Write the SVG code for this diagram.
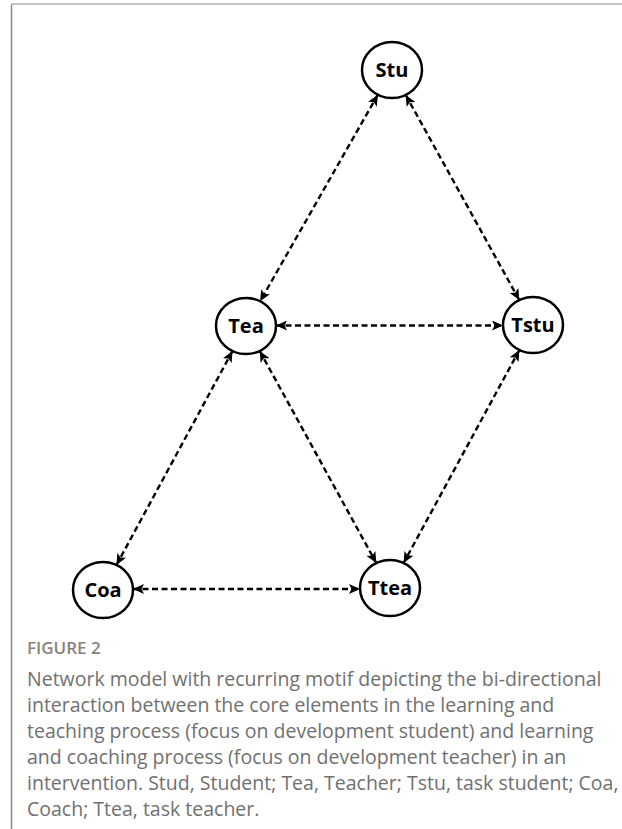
<svg xmlns="http://www.w3.org/2000/svg" width="622" height="829" viewBox="0 0 622 829">
<defs>
<marker id="ah" viewBox="0 0 11 10" refX="11" refY="5" markerWidth="11" markerHeight="10" markerUnits="userSpaceOnUse" orient="auto-start-reverse">
<path d="M0,0 L11,5 L0,10 L2.5,5 Z" fill="#000"/>
</marker>
<style>
.node ellipse{fill:#fff;stroke:#000;stroke-width:2.5}
.node text{font-family:"Open Sans","Noto Sans",sans-serif;font-weight:700;font-size:20px;fill:#000;text-anchor:middle}
.edge{stroke:#000;stroke-width:2.4;stroke-dasharray:6 3.5;fill:none;marker-start:url(#ah);marker-end:url(#ah)}
.cap{font-family:"Open Sans","Noto Sans",sans-serif;font-size:19.5px;fill:#707070}
.fig{font-family:"Open Sans","Noto Sans",sans-serif;font-size:17px;font-weight:600;fill:#8a817c}
</style>
</defs>
<rect width="622" height="829" fill="#fff"/>
<line x1="11.5" y1="4" x2="11.5" y2="829" stroke="#8a8a8a" stroke-width="1.5"/>
<line x1="11" y1="4" x2="622" y2="4" stroke="#c4c4c4" stroke-width="2"/>
<g id="connectors">
<line class="edge" x1="377.9" y1="94.7" x2="260.1" y2="301.3"/>
<line class="edge" x1="405.7" y1="94.9" x2="519.3" y2="300.1"/>
<line class="edge" x1="276" y1="325.5" x2="503" y2="325.5"/>
<line class="edge" x1="232.5" y1="351" x2="116.5" y2="565"/>
<line class="edge" x1="259.7" y1="350.9" x2="376.3" y2="563.1"/>
<line class="edge" x1="519.4" y1="350" x2="403.6" y2="563"/>
<line class="edge" x1="133" y1="589" x2="360" y2="589"/>
</g>
<g id="Stu" class="node"><ellipse cx="392" cy="70" rx="30" ry="28"/><text x="392" y="77">Stu</text></g>
<g id="Tea" class="node"><ellipse cx="246" cy="326" rx="30" ry="28"/><text x="246" y="333">Tea</text></g>
<g id="Tstu" class="node"><ellipse cx="533" cy="325" rx="30" ry="28"/><text x="533" y="332">Tstu</text></g>
<g id="Coa" class="node"><ellipse cx="103" cy="590" rx="30" ry="28"/><text x="103" y="597">Coa</text></g>
<g id="Ttea" class="node"><ellipse cx="390" cy="588" rx="30" ry="28"/><text x="390" y="595">Ttea</text></g>
<g id="caption">
<text class="fig" x="27" y="654">FIGURE 2</text>
<text class="cap" x="27" y="686">Network model with recurring motif depicting the bi-directional</text>
<text class="cap" x="27" y="712">interaction between the core elements in the learning and</text>
<text class="cap" x="27" y="738">teaching process (focus on development student) and learning</text>
<text class="cap" x="27" y="764">and coaching process (focus on development teacher) in an</text>
<text class="cap" x="27" y="790">intervention. Stud, Student; Tea, Teacher; Tstu, task student; Coa,</text>
<text class="cap" x="27" y="816">Coach; Ttea, task teacher.</text>
</g>
</svg>
